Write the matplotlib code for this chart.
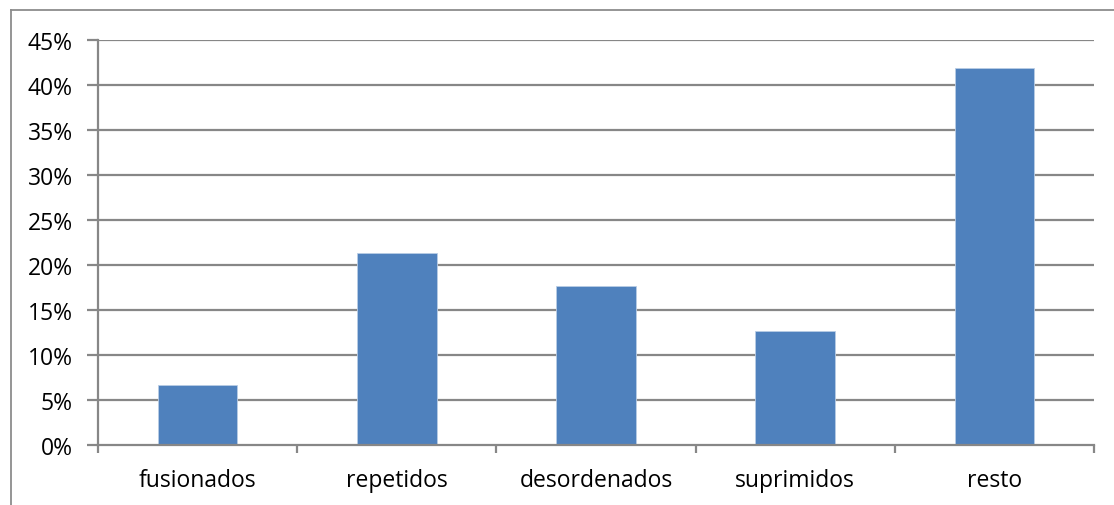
import matplotlib
matplotlib.use("Agg")
import matplotlib.pyplot as plt
from matplotlib.lines import Line2D
from matplotlib.ticker import FixedLocator

categories = ["fusionados", "repetidos", "desordenados", "suprimidos", "resto"]
values = [6.66, 21.35, 17.65, 12.66, 41.9]
yticks = [0, 5, 10, 15, 20, 25, 30, 35, 40, 45]
ytick_labels = [f"{t}%" for t in yticks]

plt.rcParams['font.family'] = ['Open Sans', 'DejaVu Sans']
W, H = 1114, 506
fig = plt.figure(figsize=(W / 100, H / 100), dpi=100)

ax = fig.add_axes([98 / W, (H - 446) / H, (1094 - 98) / W, (446 - 40.7) / H])
grid_c = "#878787"
FS = 16.5

x = list(range(len(categories)))
ax.bar(x, values, width=0.4, color="#4F81BD", edgecolor="#B9CDE5", linewidth=0.6, zorder=3)

ax.set_xlim(-0.5, len(categories) - 0.5)
ax.set_ylim(0, 45)
ax.set_yticks(yticks)
ax.set_yticklabels(ytick_labels, fontsize=FS, color="#000000")
for t in yticks[1:]:
    ax.axhline(t, color=grid_c, lw=1.6, zorder=1)

ax.set_xticks(x)
ax.set_xticklabels(categories, fontsize=FS, color="#000000")
ax.xaxis.set_minor_locator(FixedLocator([i - 0.5 for i in range(len(categories) + 1)]))
ax.tick_params(axis='x', which='major', length=0, pad=16.5)
ax.tick_params(axis='x', which='minor', length=6, width=1.6, color=grid_c, direction='out')
ax.tick_params(axis='y', length=8, width=1.6, color=grid_c, direction='out', pad=10)

for s in ["top", "right"]:
    ax.spines[s].set_visible(False)
for s in ["left", "bottom"]:
    ax.spines[s].set_color(grid_c)
    ax.spines[s].set_linewidth(1.6)
    ax.spines[s].set_zorder(4)

# outer chart border (cut off at right and bottom)
fig.add_artist(Line2D([10.5 / W, 10.5 / W], [0, (H - 11) / H], color="#8c8c8c", lw=1.3, transform=fig.transFigure))
fig.add_artist(Line2D([10.5 / W, 1], [(H - 11) / H, (H - 11) / H], color="#8c8c8c", lw=1.3, transform=fig.transFigure))

fig.savefig("out.png", dpi=100)
